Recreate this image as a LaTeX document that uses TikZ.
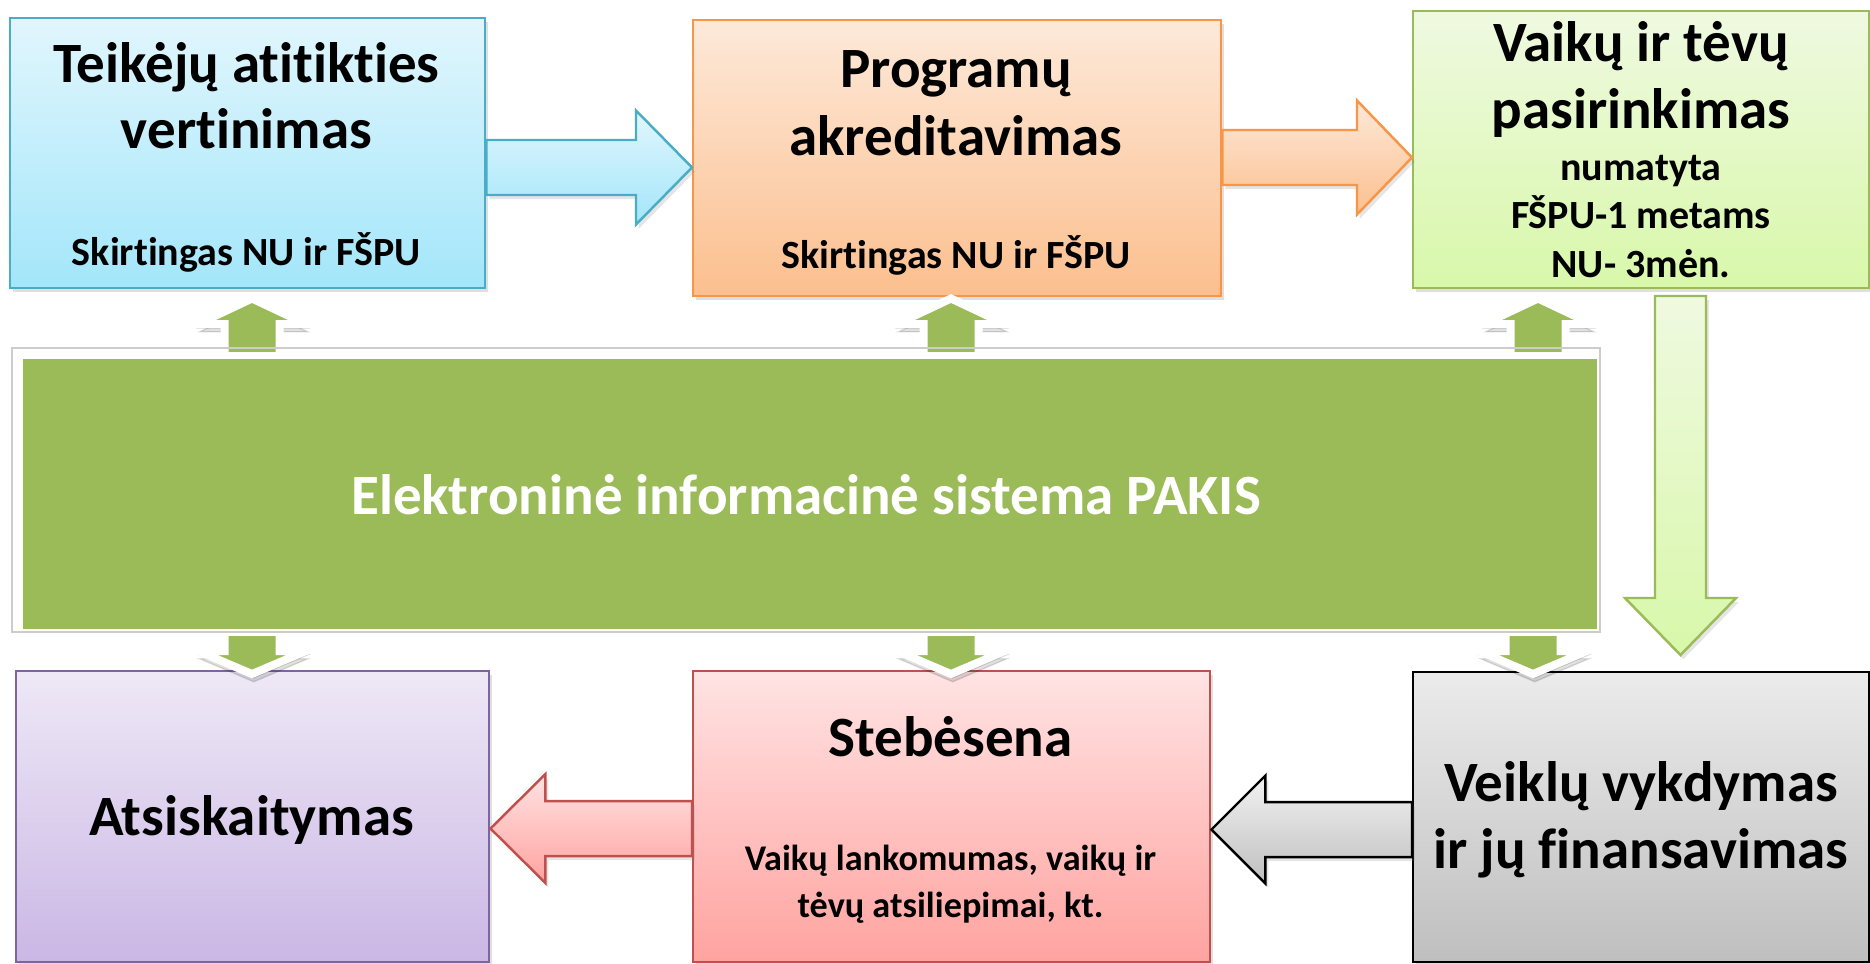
\documentclass[tikz,border=0pt]{standalone}
\usepackage{fontspec}
\setmainfont{Carlito}[Ligatures=NoCommon]
\usetikzlibrary{calc,shadows}
\definecolor{aquaB}{HTML}{4BACC6}
\definecolor{aquaT}{HTML}{E1F6FD}
\definecolor{aquaD}{HTML}{A3E6FA}
\definecolor{oranB}{HTML}{F79646}
\definecolor{oranT}{HTML}{FDE9D9}
\definecolor{oranD}{HTML}{FCBF8E}
\definecolor{grnB}{HTML}{9BBB59}
\definecolor{grnT}{HTML}{EFF9E0}
\definecolor{grnD}{HTML}{D8F8AA}
\definecolor{purB}{HTML}{8064A2}
\definecolor{purT}{HTML}{EEE8F6}
\definecolor{purD}{HTML}{CAB7E5}
\definecolor{redB}{HTML}{C0504D}
\definecolor{redT}{HTML}{FFE3E3}
\definecolor{redD}{HTML}{FFA3A0}
\definecolor{gryT}{HTML}{EBEBEB}
\definecolor{gryD}{HTML}{BFBFBF}
\definecolor{pakis}{HTML}{9BBB59}
\tikzset{
  bx/.style={draw, line width=0.7pt, anchor=north west, inner sep=0pt,
    drop shadow={opacity=0.25, shadow xshift=0.8pt, shadow yshift=-1.2pt}},
  blk/.style={line width=0.7pt, line join=miter,
    drop shadow={opacity=0.2, shadow xshift=0.8pt, shadow yshift=-1.2pt}},
  smallarr/.style={fill=pakis, draw=white, line width=0.08cm, line join=miter, miter limit=10,
    preaction={draw=black, fill=black, opacity=0.12, transform canvas={xshift=0.5pt, yshift=-2.2pt}},
    preaction={draw=black, fill=black, opacity=0.18, transform canvas={xshift=0.3pt, yshift=-1.1pt}}},
  ttl/.style={anchor=base, inner sep=0pt, font=\fontsize{16.22}{19}\selectfont\bfseries},
  sub/.style={anchor=base, inner sep=0pt, font=\fontsize{11.38}{13}\selectfont\bfseries},
  subs/.style={anchor=base, inner sep=0pt, font=\fontsize{10.3}{12}\selectfont\bfseries},
}
\newcommand\myUp[1]{\path[smallarr] ({#1-0.275},-3.62) -- ({#1-0.275},-3.24) -- ({#1-0.54},-3.24) -- (#1,-2.985) -- ({#1+0.54},-3.24) -- ({#1+0.275},-3.24) -- ({#1+0.275},-3.62) -- cycle;}
\newcommand\myDown[1]{\path[smallarr] ({#1-0.275},-6.18) -- ({#1-0.275},-6.51) -- ({#1-0.54},-6.51) -- (#1,-6.74) -- ({#1+0.54},-6.51) -- ({#1+0.275},-6.51) -- ({#1+0.275},-6.18) -- cycle;}
\begin{document}
\begin{tikzpicture}
\useasboundingbox (0,0) rectangle (18.70,-9.63);
\fill[white] (0,0) rectangle (18.70,-9.63);

% boxes
\node[bx, draw=aquaB, top color=aquaT, bottom color=aquaD, minimum width=4.75cm, minimum height=2.70cm] (b1) at (0.09,-0.17) {};
\node[bx, draw=oranB, top color=oranT, bottom color=oranD, minimum width=5.28cm, minimum height=2.76cm] (b2) at (6.92,-0.19) {};
\node[bx, draw=grnB, top color=grnT, bottom color=grnD, minimum width=4.56cm, minimum height=2.77cm] (b3) at (14.12,-0.10) {};
\node[bx, draw=purB, top color=purT, bottom color=purD, minimum width=4.73cm, minimum height=2.91cm] (b4) at (0.15,-6.70) {};
\node[bx, draw=redB, top color=redT, bottom color=redD, minimum width=5.17cm, minimum height=2.91cm] (b5) at (6.92,-6.70) {};
\node[bx, draw=black, top color=gryT, bottom color=gryD, minimum width=4.56cm, minimum height=2.90cm] (b6) at (14.12,-6.71) {};

% block arrows
\coordinate (a1s) at (b1.east |- 0,-1.675);
\coordinate (a1e) at (b2.west |- 0,-1.675);
\path[blk, draw=aquaB, top color=aquaT, bottom color=aquaD]
  ($(a1s)+(0,0.275)$) -- ($(a1e)+(-0.56,0.275)$) -- ($(a1e)+(-0.56,0.57)$) -- (a1e)
  -- ($(a1e)+(-0.56,-0.57)$) -- ($(a1e)+(-0.56,-0.275)$) -- ($(a1s)+(0,-0.275)$) -- cycle;

\coordinate (a2s) at (b2.east |- 0,-1.575);
\coordinate (a2e) at (b3.west |- 0,-1.575);
\path[blk, draw=oranB, top color=oranT, bottom color=oranD]
  ($(a2s)+(0,0.275)$) -- ($(a2e)+(-0.55,0.275)$) -- ($(a2e)+(-0.55,0.57)$) -- (a2e)
  -- ($(a2e)+(-0.55,-0.57)$) -- ($(a2e)+(-0.55,-0.275)$) -- ($(a2s)+(0,-0.275)$) -- cycle;

\coordinate (a3s) at (16.805,-2.96);
\coordinate (a3e) at (16.805,-6.55);
\path[blk, draw=grnB, top color=grnT, bottom color=grnD]
  ($(a3s)+(-0.255,0)$) -- ($(a3e)+(-0.255,0.57)$) -- ($(a3e)+(-0.555,0.57)$) -- (a3e)
  -- ($(a3e)+(0.555,0.57)$) -- ($(a3e)+(0.255,0.57)$) -- ($(a3s)+(0.255,0)$) -- cycle;

\coordinate (a4s) at (b6.west |- 0,-8.295);
\coordinate (a4e) at (b5.east |- 0,-8.295);
\path[blk, draw=black, top color=white!95!black, bottom color=gryD]
  ($(a4s)+(0,0.275)$) -- ($(a4e)+(0.54,0.275)$) -- ($(a4e)+(0.54,0.54)$) -- (a4e)
  -- ($(a4e)+(0.54,-0.54)$) -- ($(a4e)+(0.54,-0.275)$) -- ($(a4s)+(0,-0.275)$) -- cycle;

\coordinate (a5s) at (b5.west |- 0,-8.285);
\coordinate (a5e) at (b4.east |- 0,-8.285);
\path[blk, draw=redB, top color=redT, bottom color=redD]
  ($(a5s)+(0,0.275)$) -- ($(a5e)+(0.55,0.275)$) -- ($(a5e)+(0.55,0.545)$) -- (a5e)
  -- ($(a5e)+(0.55,-0.545)$) -- ($(a5e)+(0.55,-0.275)$) -- ($(a5s)+(0,-0.275)$) -- cycle;

% small arrows to and from the system box
\myUp{2.52}
\myUp{9.51}
\myUp{15.38}
\myDown{2.52}
\myDown{9.51}
\myDown{15.33}

% central system box
\node[anchor=north west, fill=pakis, draw=white, line width=0.07cm, inner sep=0pt,
  minimum width=15.81cm, minimum height=2.77cm,
  drop shadow={opacity=0.25, shadow xshift=0.8pt, shadow yshift=-1.2pt}] (sys) at (0.155,-3.515) {};
\draw[black!20, line width=0.3pt] (0.12,-3.48) rectangle (16.00,-6.32);

% texts
\node[ttl] (t1a) at (2.465,-0.82) {Teikėjų atitikties};
\node[ttl] (t1b) at (2.465,-1.48) {vertinimas};
\node[sub] (t1c) at (2.465,-2.65) {Skirtingas NU ir FŠPU};

\node[ttl] (t2a) at (9.56,-0.87) {Programų};
\node[ttl] (t2b) at (9.56,-1.55) {akreditavimas};
\node[sub] (t2c) at (9.56,-2.68) {Skirtingas NU ir FŠPU};

\node[ttl] (t3a) at (16.41,-0.61) {Vaikų ir tėvų};
\node[ttl] (t3b) at (16.41,-1.28) {pasirinkimas};
\node[sub] (t3c) at (16.41,-1.80) {numatyta};
\node[sub] (t3d) at (16.41,-2.28) {FŠPU-1 metams};
\node[sub] (t3e) at (16.41,-2.77) {NU- 3mėn.};

\node[ttl, text=white] (ts) at (8.06,-5.14) {Elektroninė informacinė sistema PAKIS};

\node[ttl] (t4) at (2.515,-8.35) {Atsiskaitymas};

\node[ttl] (t5a) at (9.505,-7.56) {Stebėsena};
\node[subs] (t5b) at (9.505,-8.70) {Vaikų lankomumas, vaikų ir};
\node[subs] (t5c) at (9.505,-9.17) {tėvų atsiliepimai, kt.};

\node[ttl] (t6a) at (16.41,-8.01) {Veiklų vykdymas};
\node[ttl] (t6b) at (16.41,-8.68) {ir jų finansavimas};
\end{tikzpicture}
\end{document}
